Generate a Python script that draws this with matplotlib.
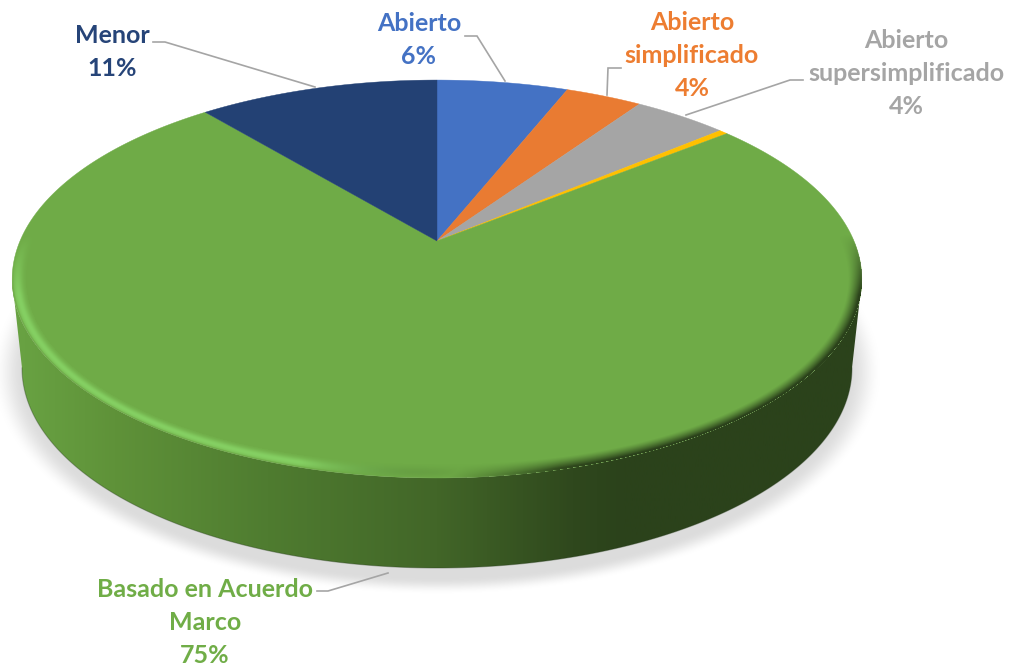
import numpy as np
import matplotlib
matplotlib.use("Agg")
import matplotlib.pyplot as plt
from matplotlib.colors import LinearSegmentedColormap, to_rgb
from matplotlib.patches import Polygon

# --- data -----------------------------------------------------------------
categories = ["Abierto", "Abierto\nsimplificado", "Abierto\nsupersimplificado",
              "Otros", "Basado en Acuerdo\nMarco", "Menor"]
shares = [6.0, 3.5, 4.3, 0.4, 74.8, 11.0]
percent_labels = ["6%", "4%", "4%", None, "75%", "11%"]
colors = ["#4472C4", "#E97B32", "#A5A5A5", "#FFC000", "#6FAB47", "#234174"]
text_colors = ["#4472C4", "#ED7D31", "#A5A5A5", None, "#70AD47", "#264478"]

label_xy = [(419, 12), (692, 11), (906, 29), None, (205, 578), (112, 24)]
leaders = [
    [(465, 36), (477, 36), (505, 81)],
    [(621, 68), (608, 68), (607, 95)],
    [(803, 80), (790, 80), (686, 115)],
    None,
    [(317, 591), (328, 591), (388, 573)],
    [(153, 42), (165, 42), (315, 87)],
]

# --- geometry (pixels of the 1019x666 canvas) -------------------------------
W, H = 1019, 666
CX, CENTRE_Y = 437, 241        # projected pie centre
AX, BY, K = 417.0, 191.7, 0.191  # perspective circle
TOP_YC, TOP_A, TOP_B = 279, 425, 199  # top-face ellipse
BOT_YC, BOT_A, BOT_B = 368, 415, 200  # base ellipse
side_stops = [(0.0, "#69A343"), (0.12, "#5F9239"), (0.3, "#4F7C30"), (0.5, "#426628"),
              (0.66, "#2F481D"), (0.72, "#2B421B"), (1.0, "#2B421B")]


def project(theta):
    """Clockwise angle from 12 o'clock on the pie disc to canvas pixels."""
    u, v = np.sin(theta), np.cos(theta)
    d = 1 + K * v
    return CX + AX * u / d, CENTRE_Y - BY * v / d


fig = plt.figure(figsize=(W / 100, H / 100), dpi=100, facecolor="white")
ax = fig.add_axes([0, 0, 1, 1])
ax.axis("off")

yy, xx = np.mgrid[0:H, 0:W] + 0.5
ext = (0, W, H, 0)

# soft shadow
rho = np.sqrt(((xx - CX) / 436) ** 2 + ((yy - 372) / 218) ** 2)
a = np.clip((1.02 - rho) / 0.075, 0, 1)
a = a * a * (3 - 2 * a)
shadow = np.zeros((H, W, 4))
shadow[..., :3] = 0.82
shadow[..., 3] = a * 0.75
ax.imshow(shadow, extent=ext, aspect="auto", zorder=1, interpolation="bilinear")

# side wall with horizontal gradient
side_cmap = LinearSegmentedColormap.from_list("side", side_stops)
t = np.linspace(np.pi, 2 * np.pi, 300)
front_top = np.column_stack([CX - TOP_A * np.cos(t), TOP_YC - TOP_B * np.sin(t)])
t2 = t[::-1]
front_bot = np.column_stack([CX - BOT_A * np.cos(t2), BOT_YC - BOT_B * np.sin(t2)])
side_path = Polygon(np.vstack([front_top, front_bot]), closed=True,
                    transform=ax.transData, fc="none", ec="none")
ax.add_patch(side_path)
grad = np.linspace(0, 1, 512)[None, :]
im = ax.imshow(grad, cmap=side_cmap, extent=(12, 862, H, 0), aspect="auto", zorder=2)
im.set_clip_path(side_path)

# darker line along the base of the wall
ax.plot(front_bot[:, 0], front_bot[:, 1], color="#24381A", lw=0.8, alpha=0.35, zorder=3)

# top face wedges
edges = np.cumsum([0] + shares) / np.sum(shares) * 2 * np.pi
for start, stop, col in zip(edges[:-1], edges[1:], colors):
    th = np.linspace(start, stop, max(int((stop - start) * 120), 4))
    px, py = project(th)
    ax.fill(np.r_[CX, px], np.r_[CENTRE_Y, py], color=col, lw=0.3, zorder=4)

# bevel along the front rim, a band of constant pixel width
dx, dy = xx - CX, yy - TOP_YC
rho = np.sqrt((dx / TOP_A) ** 2 + (dy / TOP_B) ** 2)
radial = np.hypot(dx, dy)
dist = radial * (1 - rho) / np.maximum(rho, 1e-6)
s = np.clip(1 - dist / 14.0, 0, 1)
front = np.clip((yy - 235) / 60, 0, 1)
left = np.clip((470 - xx) / 170, 0, 1)
right = np.clip((xx - 440) / 120, 0, 1)
peak = np.exp(-((s - 0.60) / 0.38) ** 2)
light_rgb = np.array(to_rgb("#85D063"))
bevel = np.zeros((H, W, 4))
side_rgb = side_cmap(np.clip((xx - 12) / 850, 0, 1))[..., :3]
dark_a = np.clip(s * 1.15, 0, 1) ** 1.3 * right * front
light_a = peak * left * front
bevel[..., :3] = side_rgb * (1 - left[..., None]) + light_rgb * left[..., None]
bevel[..., 3] = np.maximum(dark_a, light_a) * (rho < 1.0) * (s > 0)
# outermost left edge falls back to wall colour
edge = np.clip((s - 0.85) / 0.15, 0, 1) * left * front
bevel[..., :3] = bevel[..., :3] * (1 - edge[..., None]) + np.array(to_rgb("#6AA544")) * edge[..., None]
ax.imshow(bevel, extent=ext, aspect="auto", zorder=5, interpolation="bilinear")

# leaders and labels
for path in leaders:
    if path is not None:
        xs, ys = zip(*path)
        ax.plot(xs, ys, color="#A5A5A5", lw=1.2, zorder=6, solid_joinstyle="miter")

for name, pct, xy, col in zip(categories, percent_labels, label_xy, text_colors):
    if pct is None:
        continue
    ax.text(xy[0], xy[1], f"{name}\n{pct}", ha="center", va="top", color=col,
            family="Lato", weight="bold", fontsize=18, linespacing=1.52, zorder=7)

ax.set_xlim(0, W)
ax.set_ylim(H, 0)
fig.savefig("out.png", dpi=100, facecolor="white")
